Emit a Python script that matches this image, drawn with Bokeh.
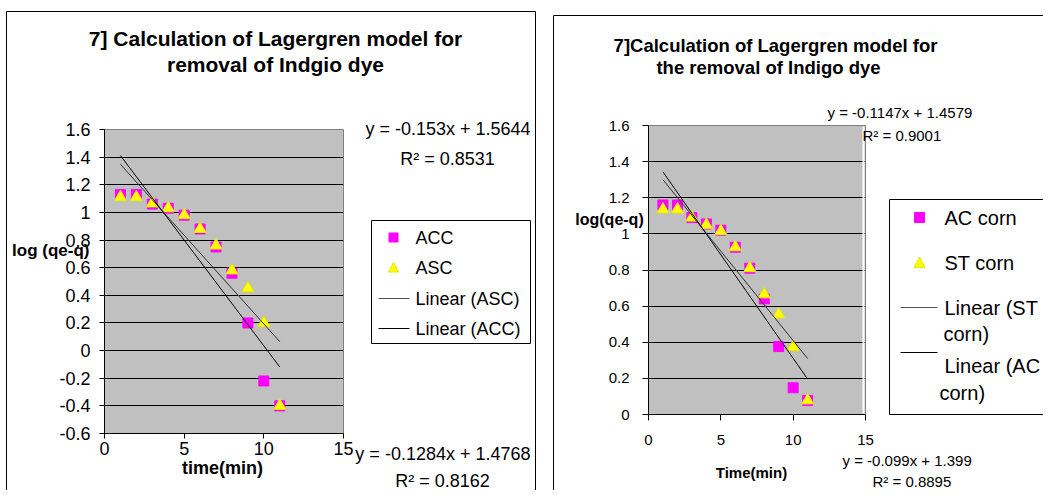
from bokeh.plotting import figure
from bokeh.models import FixedTicker, CustomJSTickFormatter, Range1d
from bokeh.core.properties import value
from bokeh.layouts import row, column
from bokeh.embed import file_html
from bokeh.resources import INLINE

FONT = "Liberation Sans"

# ---------------- data ----------------
time_min = [1, 2, 3, 4, 5, 6, 7, 8, 9, 10, 11]

# left chart
acc = [1.13, 1.13, 1.06, 1.03, 0.98, 0.88, 0.75, 0.56, 0.20, -0.22, -0.40]
asc = [1.11, 1.11, 1.065, 1.03, 0.98, 0.88, 0.76, 0.58, 0.45, 0.20, -0.40]
acc_fit = [-0.153, 1.5644]
asc_fit = [-0.1284, 1.4768]
acc_r2 = 0.8531
asc_r2 = 0.8162

# right chart
ac_corn = [1.16, 1.16, 1.09, 1.055, 1.02, 0.926, 0.81, 0.64, 0.376, 0.148, 0.078]
st_corn = [1.135, 1.135, 1.09, 1.05, 1.015, 0.926, 0.81, 0.665, 0.554, 0.373, 0.078]
ac_corn_fit = [-0.1147, 1.4579]
st_corn_fit = [-0.099, 1.399]
ac_corn_r2 = 0.9001
st_corn_r2 = 0.8895

x_ticks = [0, 5, 10, 15]
left_y_ticks = [-0.6, -0.4, -0.2, 0, 0.2, 0.4, 0.6, 0.8, 1.0, 1.2, 1.4, 1.6]
right_y_ticks = [0, 0.2, 0.4, 0.6, 0.8, 1.0, 1.2, 1.4, 1.6]

MAGENTA = "#FF00FF"
YELLOW = "#FFFF00"
YELLOW_EDGE = "#E8E800"


def fit_line(fit):
    xs = [min(time_min), max(time_min)]
    return xs, [fit[0] * x + fit[1] for x in xs]


def eq_text(fit):
    m, b = fit
    return "y = %gx + %g" % (m, b)


class Chart:
    """One Excel-like chart; helpers convert page pixels to data units for
    decorations (texts, chart border, legend) drawn at overlay level."""

    def __init__(self, page_x, width, height, frame, xr, yr, yticks, tick_size,
                 tick_out, y_standoff, x_standoff):
        fl, ft, fr, fb = frame
        self.fl, self.ft, self.fr, self.fb = fl, ft, fr, fb
        self.xr, self.yr = xr, yr
        p = figure(width=width, height=height, output_backend="svg",
                   toolbar_location=None, title=None,
                   x_range=Range1d(*xr), y_range=Range1d(*yr),
                   min_border_left=fl - page_x,
                   min_border_right=width - (fl - page_x) - (fr - fl),
                   min_border_top=ft,
                   min_border_bottom=height - fb)
        p.background_fill_color = "#C0C0C0"
        p.border_fill_color = "white"
        p.outline_line_color = "#808080"
        p.xgrid.visible = False
        p.ygrid.ticker = FixedTicker(ticks=yticks)
        p.ygrid.grid_line_color = "black"
        p.ygrid.grid_line_width = 1
        p.xaxis.ticker = FixedTicker(ticks=x_ticks)
        p.yaxis.ticker = FixedTicker(ticks=yticks)
        p.yaxis.formatter = CustomJSTickFormatter(
            code="return String(Math.round(tick*10)/10);")
        for ax in (p.xaxis[0], p.yaxis[0]):
            ax.axis_line_color = "black"
            ax.major_tick_line_color = "black"
            ax.minor_tick_line_color = None
            ax.major_tick_in = 0
            ax.major_tick_out = tick_out
            ax.major_label_text_font = FONT
            ax.major_label_text_font_size = tick_size
            ax.major_label_text_color = "black"
        p.yaxis.major_label_standoff = y_standoff
        p.xaxis.major_label_standoff = x_standoff
        self.p = p

    def dx(self, px):
        x0, x1 = self.xr
        return x0 + (px - self.fl) / (self.fr - self.fl) * (x1 - x0)

    def dy(self, py):
        y0, y1 = self.yr
        return y1 - (py - self.ft) / (self.fb - self.ft) * (y1 - y0)

    def label(self, px, py, text, size, bold=False, align="center"):
        self.p.text(x=[self.dx(px)], y=[self.dy(py)], text=[text],
                    text_font=value(FONT), text_font_size=value(size),
                    text_font_style="bold" if bold else "normal",
                    text_align=align, text_baseline="middle",
                    text_color="black", level="overlay")

    def polyline(self, pts, color="black", width=1):
        self.p.line([self.dx(a) for a, _ in pts], [self.dy(b) for _, b in pts],
                    line_color=color, line_width=width, level="overlay")

    def box(self, l, t, r, b, fill="white", line="black"):
        self.p.quad(left=[self.dx(l)], right=[self.dx(r)], top=[self.dy(t)],
                    bottom=[self.dy(b)], fill_color=fill, line_color=line,
                    line_width=1, level="overlay")

    def square_key(self, cx, cy, s):
        h = s / 2.0
        self.box(cx - h, cy - h, cx + h, cy + h, fill=MAGENTA, line=MAGENTA)

    def triangle_key(self, cx, cy, s):
        h = s / 2.0
        pts = [(cx - h, cy + h * 0.9), (cx + h, cy + h * 0.9), (cx, cy - h)]
        self.p.patch([self.dx(a) for a, _ in pts], [self.dy(b) for _, b in pts],
                     fill_color=YELLOW, line_color=YELLOW_EDGE, level="overlay")


H = 490

# ---------------- left chart ----------------
L = Chart(0, 545, H, (104, 129, 343, 433), (0, 15), (-0.6, 1.6), left_y_ticks,
          "18px", 5, 9, 3)
pl = L.p
pl.scatter(time_min, acc, marker="square", size=10,
           fill_color=MAGENTA, line_color=MAGENTA)
pl.scatter(time_min, asc, marker="triangle", size=12,
           fill_color=YELLOW, line_color=YELLOW_EDGE)
xs, ys = fit_line(asc_fit)
pl.line(xs, ys, line_color="#303030", line_width=1)
xs, ys = fit_line(acc_fit)
pl.line(xs, ys, line_color="black", line_width=1)

# chart border
L.polyline([(6, 700), (6, 11), (535, 11), (535, 700)])
# legend
L.box(371, 220, 530, 343)
L.square_key(393, 237, 9)
L.label(415, 237, "ACC", "18px", align="left")
L.triangle_key(393, 267, 10)
L.label(415, 267, "ASC", "18px", align="left")
L.polyline([(378, 298), (409, 298)], color="#505050")
L.label(415, 298, "Linear (ASC)", "18px", align="left")
L.polyline([(378, 328), (409, 328)])
L.label(415, 328, "Linear (ACC)", "18px", align="left")
# texts
L.label(275, 38, "7] Calculation of Lagergren model for", "21px", bold=True)
L.label(275, 64, "removal of Indgio dye", "21px", bold=True)
L.label(530, 128, eq_text(acc_fit), "18px", align="right")
L.label(447, 158, "R\u00b2 = %g" % acc_r2, "18px")
L.label(530, 453, eq_text(asc_fit), "18px", align="right")
L.label(442, 480, "R\u00b2 = %g" % asc_r2, "18px")
L.label(89, 250, "log (qe-q)", "17px", bold=True, align="right")
L.label(222, 467, "time(min)", "18px", bold=True)

# ---------------- right chart ----------------
R = Chart(545, 498, H, (648, 125, 865, 414), (0, 15), (0, 1.6), right_y_ticks,
          "15px", 6, 13, 14)
pr = R.p
pr.scatter(time_min, ac_corn, marker="square", size=10,
           fill_color=MAGENTA, line_color=MAGENTA)
pr.scatter(time_min, st_corn, marker="triangle", size=12,
           fill_color=YELLOW, line_color=YELLOW_EDGE)
xs, ys = fit_line(st_corn_fit)
pr.line(xs, ys, line_color="#303030", line_width=1)
xs, ys = fit_line(ac_corn_fit)
pr.line(xs, ys, line_color="black", line_width=1)

# white strip at the plot-area's right edge (Excel plot-area border)
R.polyline([(863, 126), (863, 413)], color="white", width=2)

R.polyline([(553, 700), (553, 15), (1200, 15)])
R.box(889, 199, 1100, 414)
R.square_key(919, 217, 10)
R.label(944, 217, "AC corn", "20px", align="left")
R.triangle_key(919, 262, 11)
R.label(944, 262, "ST corn", "20px", align="left")
R.polyline([(900, 307), (937, 307)], color="#505050")
R.label(944, 307, "Linear (ST", "20px", align="left")
R.label(943, 333, "corn)", "20px", align="left")
R.polyline([(900, 352), (937, 352)])
R.label(944, 365, "Linear (AC", "20px", align="left")
R.label(939, 392, "corn)", "20px", align="left")

R.label(775, 45, "7]Calculation of Lagergren model for", "18.5px", bold=True)
R.label(768, 67, "the removal of Indigo dye", "18.5px", bold=True)
R.label(827, 112, eq_text(ac_corn_fit), "15px", align="left")
R.label(862, 135, "R\u00b2 = %g" % ac_corn_r2, "15px", align="left")
R.label(842, 460, eq_text(st_corn_fit), "15px", align="left")
R.label(872, 481, "R\u00b2 = %g" % st_corn_r2, "15px", align="left")
R.label(609, 219, "log(qe-q)", "16px", bold=True)
R.label(751, 472, "Time(min)", "15px", bold=True)

layout = row(column(pl), column(pr), spacing=0)
open("out.html", "w").write(file_html(layout, INLINE))
